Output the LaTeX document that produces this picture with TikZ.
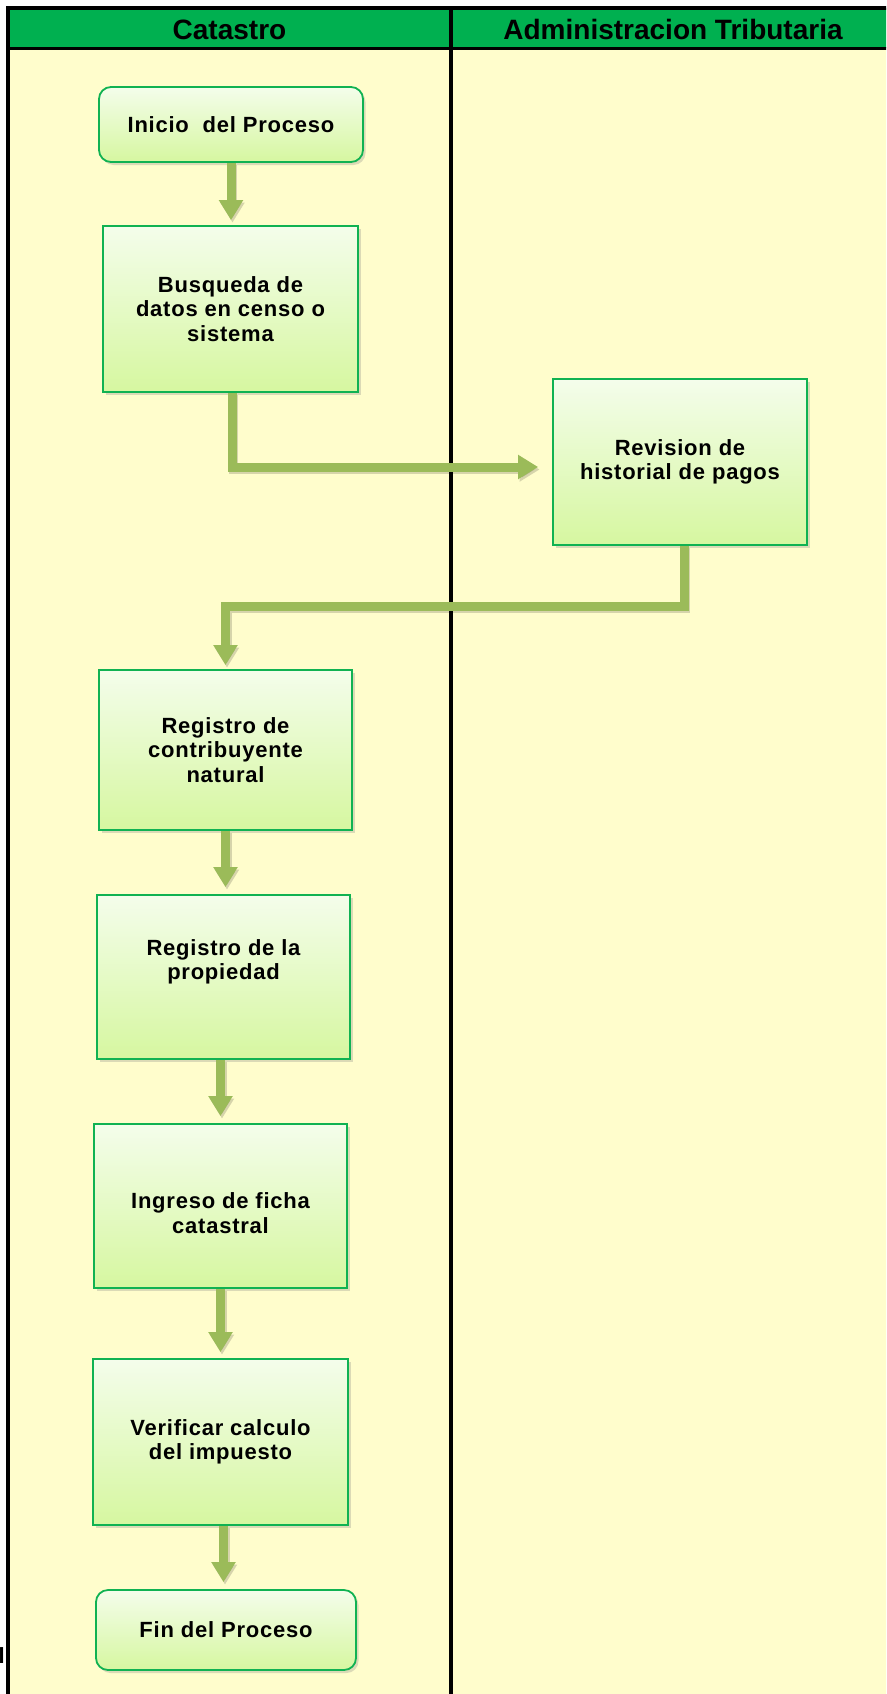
\documentclass[tikz,border=0pt]{standalone}
\usepackage{fontspec}
\setmainfont{Liberation Sans}
\newfontfamily\boxfont{Liberation Sans}[LetterSpace=3.5]
\usetikzlibrary{arrows.meta,shadows,calc}

\definecolor{lanefill}{RGB}{255,253,204}
\definecolor{headgreen}{RGB}{0,176,80}
\definecolor{boxline}{RGB}{16,178,82}
\definecolor{boxtop}{RGB}{244,253,235}
\definecolor{boxbot}{RGB}{214,247,160}
\definecolor{flow}{RGB}{155,187,89}

\begin{document}
\begin{tikzpicture}[x=1pt,y=-1pt,
  stepbox/.style={draw=boxline, line width=1.8pt, top color=boxtop, bottom color=boxbot,
    drop shadow={opacity=0.28, shadow xshift=2.5pt, shadow yshift=-3pt},
    align=center, inner sep=0pt,
    font=\boxfont\bfseries\fontsize{22}{24.5}\selectfont},
  termbox/.style={stepbox, rounded corners=12pt},
  boxtext/.style={align=center, inner sep=0pt,
    font=\boxfont\bfseries\fontsize{22}{24.5}\selectfont},
  headtext/.style={inner sep=0pt, font=\bfseries\fontsize{28}{30}\selectfont},
  flowline/.style={draw=flow, line width=9pt, line join=miter,
    -{Triangle[length=20pt,width=23pt]}},
  flowshade/.style={draw=black, opacity=0.16, line width=9pt, line join=miter,
    -{Triangle[length=20pt,width=23pt]},
    transform canvas={shift={(1.5pt,-2.5pt)}}},
  rule/.style={draw=black, line width=3.5pt}]

\useasboundingbox (0,0) rectangle (886,1694);
\clip (0,0) rectangle (886,1694);

% caption fragment left of the lane table
\node[anchor=base west, inner sep=0pt, font=\bfseries\fontsize{22}{24}\selectfont]
  (capfrag) at (-1.5,1663) {l};

% swimlane table
\fill[lanefill] (8,8) rectangle (895,1710);
\fill[headgreen] (8,8) rectangle (895,48.5);
\draw[rule] (6.25,8) -- (900,8);
\draw[rule] (8,48.5) -- (900,48.5);
\draw[rule] (8,6.25) -- (8,1710);
\draw[rule] (451,6.25) -- (451,1710);

\node[headtext] (lane1) at (229.5,29.5) {Catastro};
\node[headtext] (lane2) at (673,29.5) {Administracion Tributaria};

% process steps
\node[termbox, minimum width=264pt, minimum height=75pt] (inicio) at (231,124.5)
  {Inicio~ del Proceso};
\node[stepbox, minimum width=255pt, minimum height=166pt] (busq) at (230.5,309)
  {Busqueda de\\datos en censo o\\sistema};
\node[stepbox, minimum width=254pt, minimum height=166pt] (rev) at (680,462)
  {Revision de\\historial de pagos};
\node[stepbox, minimum width=253pt, minimum height=160pt] (contrib) at (225.5,750)
  {Registro de\\contribuyente\\natural};
\node[stepbox, minimum width=253pt, minimum height=164pt] (prop) at (223.5,977) {};
\node[boxtext] (proptext) at ($(prop.center)+(0,-15)$) {Registro de la\\propiedad};
\node[stepbox, minimum width=253pt, minimum height=164pt] (ficha) at (220.5,1206) {};
\node[boxtext] (fichatext) at ($(ficha.center)+(0,7)$) {Ingreso de ficha\\catastral};
\node[stepbox, minimum width=255pt, minimum height=166pt] (verif) at (220.5,1442)
  {Verificar calculo\\del impuesto};
\node[termbox, minimum width=260pt, minimum height=80pt] (fin) at (226,1630)
  {Fin del Proceso};

% connector shadows
\draw[flowshade, shorten >=5pt] (inicio.south) -- (inicio.south |- busq.north);
\draw[flowshade] ($(busq.south)+(1.5,0)$) |- ($(rev.west)+(-14,5)$);
\draw[flowshade, shorten >=4pt] ($(rev.south)+(4,0)$) -- ++(0,60.5) -| (contrib.north);
\draw[flowshade, shorten >=7pt] (contrib.south) -- (contrib.south |- prop.north);
\draw[flowshade, shorten >=7pt] ($(prop.south)+(-3,0)$) -- ($(prop.south |- ficha.north)+(-3,0)$);
\draw[flowshade, shorten >=6pt] (ficha.south) -- (ficha.south |- verif.north);
\draw[flowshade, shorten >=7pt] ($(verif.south)+(3,0)$) -- ($(verif.south |- fin.north)+(3,0)$);

% connectors
\draw[flowline, shorten >=5pt] (inicio.south) -- (inicio.south |- busq.north);
\draw[flowline] ($(busq.south)+(1.5,0)$) |- ($(rev.west)+(-14,5)$);
\draw[flowline, shorten >=4pt] ($(rev.south)+(4,0)$) -- ++(0,60.5) -| (contrib.north);
\draw[flowline, shorten >=7pt] (contrib.south) -- (contrib.south |- prop.north);
\draw[flowline, shorten >=7pt] ($(prop.south)+(-3,0)$) -- ($(prop.south |- ficha.north)+(-3,0)$);
\draw[flowline, shorten >=6pt] (ficha.south) -- (ficha.south |- verif.north);
\draw[flowline, shorten >=7pt] ($(verif.south)+(3,0)$) -- ($(verif.south |- fin.north)+(3,0)$);

\end{tikzpicture}
\end{document}
